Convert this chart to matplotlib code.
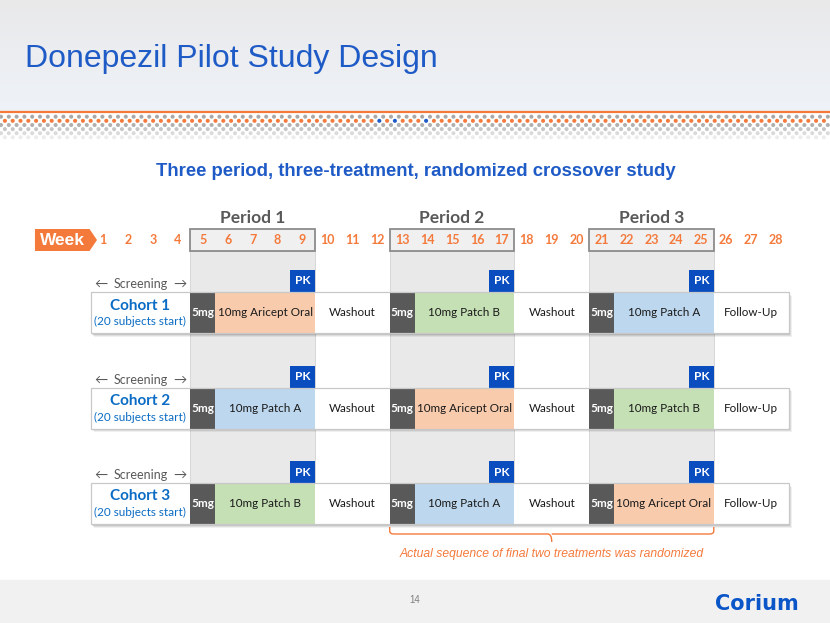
import numpy as np
import matplotlib.pyplot as plt
from matplotlib.patches import Rectangle, Polygon, PathPatch
from matplotlib.path import Path

# ---- content ----
title = "Donepezil Pilot Study Design"
subtitle = "Three period, three-treatment, randomized crossover study"
weeks = list(range(1, 29))
period_names = ["Period 1", "Period 2", "Period 3"]
period_first = [5, 13, 21]
period_last = [9, 17, 25]
cohort_names = ["Cohort 1", "Cohort 2", "Cohort 3"]
cohort_note = "(20 subjects start)"
cohort_treatments = [
    ["10mg Aricept Oral", "10mg Patch B", "10mg Patch A"],
    ["10mg Patch A", "10mg Aricept Oral", "10mg Patch B"],
    ["10mg Patch B", "10mg Patch A", "10mg Aricept Oral"],
]
run_in_label = "5mg"
gap_labels = ["Washout", "Washout", "Follow-Up"]
gap_first = [10, 18, 26]
gap_last = [12, 20, 28]
screening_weeks = [1, 4]
pk_weeks = [9, 17, 25]
pk_label = "PK"
brace_weeks = [13, 25]
brace_note = "Actual sequence of final two treatments was randomized"
page_number = "14"
logo = "Corium"

treat_colors = {
    "10mg Aricept Oral": "#F8CBAD",
    "10mg Patch B": "#C5E0B4",
    "10mg Patch A": "#BDD7EE",
}
ORANGE = "#F47A3C"
BLUE = "#1F5BC6"
COHORT_BLUE = "#0A6CC4"
DARK = "#595959"
PK_BLUE = "#0A4DBF"
EDGE = "#C8C8C8"

# ---- layout (pixels) ----
W, H = 830, 623
X_WEEK1 = 103.0
PXW = 24.93
ROW_TOP = [292, 387.5, 483]
ROW_H = 41
PK_H = 22
HEAD_TOP, HEAD_BOT = 229, 251

cal = ["Lato", "DejaVu Sans"]
arial = ["Liberation Sans", "DejaVu Sans"]

fig = plt.figure(figsize=(W / 100, H / 100), dpi=100)
bg = fig.add_axes([0, 0, 1, 1])
bg.set_xlim(0, W)
bg.set_ylim(H, 0)
bg.axis("off")

# title band with soft gradient
grad = np.linspace(0, 1, 112)[:, None]
top_c = np.array([0.914, 0.914, 0.918])
bot_c = np.array([0.935, 0.950, 0.972])
band = top_c + (bot_c - top_c) * grad
band = np.repeat(band[:, None, :], 2, axis=1).reshape(112, 2, 3)
bg.imshow(band, extent=(0, W, 111, 0), aspect="auto", zorder=0)
bg.plot([0, W], [111.5, 111.5], color=ORANGE, lw=1.6, zorder=1)
bg.text(25, 67, title, fontsize=23, color=BLUE, family=arial, va="baseline", ha="left")

# dotted band
pitch = 7.8
row_y = [116.7, 120.8, 125.0, 129.1, 133.2, 137.3]
row_col = ["#A9A9A9", ORANGE, "#B0B0B0", "#C6C6C6", "#DADADA", "#ECECEC"]
blue_x = [379.3, 395.0, 425.7]
for i, (yy, cc) in enumerate(zip(row_y, row_col)):
    off = 4.9 if i % 2 == 1 else 1.0
    xs = np.arange(off, W, pitch)
    cols = [cc] * len(xs)
    if i == 1:
        cols = [BLUE if min(abs(x - b) for b in blue_x) < 1.5 else cc for x in xs]
    bg.scatter(xs, np.full(len(xs), yy), s=8.5, c=cols, marker="o", linewidths=0, zorder=2)

bg.text(W / 2 + 1, 171, subtitle, fontsize=13.3, color=BLUE, family=arial, weight="bold",
        ha="center", va="center")

# footer band
bg.add_patch(Rectangle((0, 580), W, H - 580, color="#F1F1F1", zorder=0))
bg.text(415, 600, page_number, fontsize=7, color="#7F7F7F", family=arial, ha="center", va="center")
bg.text(757, 604, logo, fontsize=15, color="#0A55C8", family=["DejaVu Sans"], weight="bold",
        ha="center", va="center")

# ---- diagram axes in week units ----
ax = fig.add_axes([0, 0, 1, 1])
ax.set_xlim(1 - X_WEEK1 / PXW, 1 + (W - X_WEEK1) / PXW)
ax.set_ylim(H, 0)
ax.axis("off")
ax.patch.set_alpha(0)

# Week tag
wl, wr = -1.73, 0.76
ax.add_patch(Polygon([(wl, HEAD_TOP), (wr - 0.3, HEAD_TOP), (wr, (HEAD_TOP + HEAD_BOT) / 2),
                      (wr - 0.3, HEAD_BOT), (wl, HEAD_BOT)], closed=True, color=ORANGE, lw=0, zorder=3))
ax.text((wl + wr - 0.3) / 2, (HEAD_TOP + HEAD_BOT) / 2 + 0.5, "Week", color="white", fontsize=12.5,
        weight="bold", family=arial, ha="center", va="center", zorder=4)

bottom = ROW_TOP[-1] + ROW_H
for name, a, b in zip(period_names, period_first, period_last):
    # grey column under each period
    ax.add_patch(Rectangle((a - 0.5, HEAD_BOT), b - a + 1, bottom - HEAD_BOT,
                           facecolor="#E9E9E9", edgecolor="#D2D2D2", lw=0.6, zorder=1))
    # header box
    ax.add_patch(Rectangle((a - 0.5, HEAD_TOP), b - a + 1, HEAD_BOT - HEAD_TOP,
                           facecolor="#F0F0F0", edgecolor="#8C8C8C", lw=1.3, zorder=2))
    ax.text((a + b) / 2, 218, name, fontsize=12.5, color=DARK, weight="bold", family=cal,
            ha="center", va="center", zorder=4)

for wk in weeks:
    ax.text(wk, 240.5, str(wk), fontsize=9, color=ORANGE, weight="bold", family=cal,
            ha="center", va="center", zorder=4)


def shadow(x0, y0, w, h):
    for k, al in zip([3.5, 2.5, 1.5], [0.06, 0.08, 0.10]):
        ax.add_patch(Rectangle((x0 + k / PXW, y0 + k), w, h, facecolor="black",
                               alpha=al, lw=0, zorder=2))


CELL_FS = 8.4
for r, (cname, treats) in enumerate(zip(cohort_names, cohort_treatments)):
    top = ROW_TOP[r]
    mid = top + ROW_H / 2
    row_left = screening_weeks[0] - 0.5
    row_right = gap_last[-1] + 0.5
    shadow(row_left, top, row_right - row_left, ROW_H)

    # cohort label cell
    ax.add_patch(Rectangle((row_left, top), screening_weeks[1] - screening_weeks[0] + 1, ROW_H,
                           facecolor="white", lw=0, zorder=3))
    ax.text((screening_weeks[0] + screening_weeks[1]) / 2, mid - 7, cname, fontsize=11,
            color=COHORT_BLUE, weight="bold", family=cal, ha="center", va="center", zorder=5)
    ax.text((screening_weeks[0] + screening_weeks[1]) / 2, mid + 9, cohort_note, fontsize=8.5,
            color=COHORT_BLUE, family=cal, ha="center", va="center", zorder=5)

    for p, tname in enumerate(treats):
        a, b = period_first[p], period_last[p]
        ax.add_patch(Rectangle((a - 0.5, top), 1, ROW_H, facecolor=DARK, lw=0, zorder=3))
        ax.text(a, mid, run_in_label, fontsize=8.5, color="white", weight="bold", family=cal,
                ha="center", va="center", zorder=5)
        ax.add_patch(Rectangle((a + 0.5, top), b - a, ROW_H, facecolor=treat_colors[tname],
                               lw=0, zorder=3))
        ax.text((a + 1 + b) / 2, mid, tname, fontsize=CELL_FS, color="#1A1A1A", family=cal,
                ha="center", va="center", zorder=5)

    for gname, a, b in zip(gap_labels, gap_first, gap_last):
        ax.add_patch(Rectangle((a - 0.5, top), b - a + 1, ROW_H, facecolor="white", lw=0, zorder=3))
        ax.text((a + b) / 2, mid, gname, fontsize=CELL_FS, color="#1A1A1A", family=cal,
                ha="center", va="center", zorder=5)

    ax.add_patch(Rectangle((row_left, top), row_right - row_left, ROW_H, fill=False,
                           edgecolor=EDGE, lw=0.9, zorder=4))

    # PK markers
    for wk in pk_weeks:
        ax.add_patch(Rectangle((wk - 0.5, top - PK_H), 1, PK_H, facecolor=PK_BLUE, lw=0, zorder=3))
        ax.text(wk, top - PK_H / 2, pk_label, fontsize=8.5, color="white", weight="bold",
                family=cal, ha="center", va="center", zorder=5)

    # screening arrows
    sy = top - 8
    ax.text(screening_weeks[0] - 0.1, sy, "\u2190", fontsize=9.5, color=DARK, family=cal,
            ha="center", va="center", zorder=5)
    ax.text((screening_weeks[0] + screening_weeks[1]) / 2, sy, "Screening", fontsize=9,
            color=DARK, family=cal, ha="center", va="center", zorder=5)
    ax.text(screening_weeks[1] + 0.1, sy, "\u2192", fontsize=9.5, color=DARK, family=cal,
            ha="center", va="center", zorder=5)

# brace under the last two periods
bl, br = brace_weeks[0] - 0.5, brace_weeks[1] + 0.5
bc = (bl + br) / 2
y0, y1, y2 = 527, 534, 542
rx = 4 / PXW
verts = [(bl, y0), (bl, y1 - 3), (bl, y1), (bl + rx, y1), (bc - rx, y1), (bc, y1), (bc, y2),
         (bc, y1), (bc + rx, y1), (br - rx, y1), (br, y1), (br, y1 - 3), (br, y0)]
codes = [Path.MOVETO, Path.LINETO, Path.CURVE3, Path.CURVE3, Path.LINETO, Path.CURVE3, Path.CURVE3,
         Path.MOVETO, Path.LINETO, Path.LINETO, Path.CURVE3, Path.CURVE3, Path.LINETO]
ax.add_patch(PathPatch(Path(verts, codes), fill=False, edgecolor=ORANGE, lw=1.0, zorder=4))
ax.text(bc, 553.5, brace_note, fontsize=8.7, color=ORANGE, style="italic", family=arial,
        ha="center", va="center", zorder=5)

fig.savefig("out.png", dpi=100)
